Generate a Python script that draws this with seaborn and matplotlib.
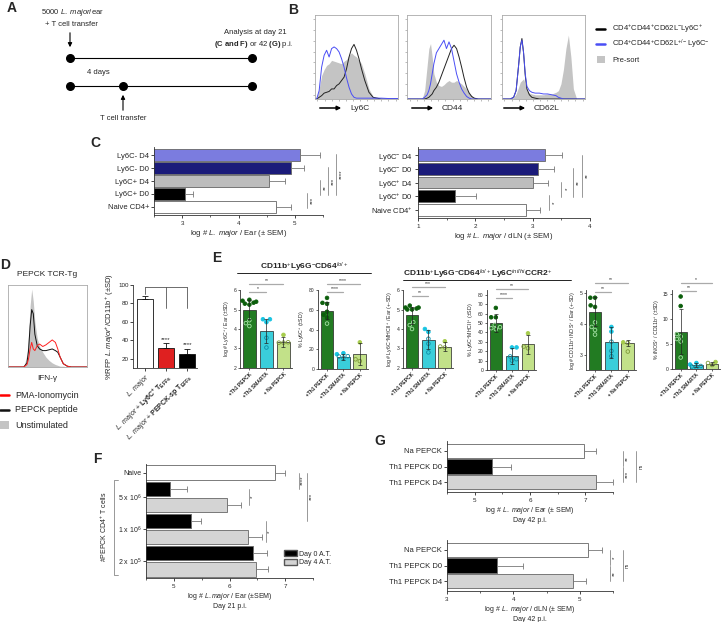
import warnings
import numpy as np
import pandas as pd
import matplotlib
matplotlib.use("Agg")
import matplotlib.pyplot as plt
import matplotlib.transforms as mtransforms
from matplotlib.patches import Patch
from matplotlib.lines import Line2D
import seaborn as sns

warnings.filterwarnings("ignore")

sns.set_style("ticks")
plt.rcParams["font.family"] = ["Liberation Sans", "DejaVu Sans"]
plt.rcParams["mathtext.fontset"] = "custom"
plt.rcParams["mathtext.rm"] = "Liberation Sans"
plt.rcParams["mathtext.it"] = "Liberation Sans:italic"
plt.rcParams["mathtext.bf"] = "Liberation Sans:bold"
plt.rcParams["axes.linewidth"] = 0.6
plt.rcParams["axes.edgecolor"] = "#333333"

W, H = 724, 622

# ---------------- data ----------------
# B: flow histograms (x = fraction of axis, y = fraction of axis height)
LY6C_X = [0, .02, .05, .08, .11, .14, .17, .2, .23, .26, .29, .32, .35, .38, .41, .44, .47, .5, .53, .56, .6, .65, .7, .75, .8, .9, 1]
LY6C_PRE = [0, .01, .12, .28, .35, .4, .42, .46, .45, .44, .43, .42, .45, .47, .52, .55, .52, .5, .46, .42, .3, .12, .03, .01, 0, 0, 0]
LY6C_POS = [0, 0, .02, .04, .07, .08, .09, .12, .12, .16, .18, .22, .26, .36, .5, .6, .65, .58, .48, .36, .22, .08, .02, .01, 0, 0, 0]
LY6C_NEG = [0, 0, .1, .38, .52, .58, .5, .6, .62, .6, .56, .48, .38, .25, .14, .06, .02, .01, .01, .01, .01, .01, .01, .01, .01, .005, .005]

CD44_X = [0, .18, .21, .24, .26, .28, .3, .32, .35, .38, .41, .44, .47, .5, .53, .56, .59, .62, .65, .68, .71, .74, .77, .8, .85, 1]
CD44_PRE = [0, 0, .1, .4, .6, .66, .5, .3, .2, .16, .15, .17, .2, .22, .2, .2, .22, .2, .18, .15, .12, .08, .04, .02, 0, 0]
CD44_POS = [0, 0, 0, .01, .02, .04, .06, .1, .14, .2, .28, .36, .44, .52, .6, .64, .6, .5, .38, .25, .14, .07, .03, .01, 0, 0]
CD44_NEG = [0, 0, .02, .05, .1, .18, .3, .42, .55, .6, .65, .7, .6, .68, .6, .45, .3, .2, .12, .07, .03, .01, 0, 0, 0, 0]

CD62L_X = [0, .1, .14, .17, .2, .22, .24, .26, .28, .3, .33, .36, .4, .45, .5, .55, .6, .65, .68, .71, .74, .77, .8, .83, .86, .9, 1]
CD62L_PRE = [0, 0, .02, .06, .14, .2, .22, .24, .18, .1, .07, .06, .05, .05, .05, .06, .06, .08, .1, .18, .35, .6, .76, .5, .12, 0, 0]
CD62L_POS = [0, 0, .02, .1, .4, .62, .72, .55, .28, .12, .05, .02, .01, 0, 0, 0, 0, 0, 0, 0, 0, 0, 0, 0, 0, 0, 0]
CD62L_NEG = [0, 0, .02, .1, .4, .62, .7, .55, .3, .15, .1, .08, .07, .07, .06, .06, .05, .04, .02, .01, 0, 0, 0, 0, 0, 0, 0]

# C
C_EAR_GROUPS = ["Ly6C- D4", "Ly6C- D0", "Ly6C+ D4", "Ly6C+ D0", "Naive CD4+"]
C_EAR_MEAN = [5.1, 4.93, 4.55, 3.05, 4.67]
C_EAR_SEM = [0.35, 0.24, 0.28, 0.15, 0.26]
C_DLN_GROUPS = [r"Ly6C$^{-}$ D4", r"Ly6C$^{-}$ D0", r"Ly6C$^{+}$ D4", r"Ly6C$^{+}$ D0", r"Naive CD4$^{+}$"]
C_DLN_MEAN = [3.22, 3.1, 3.0, 1.65, 2.88]
C_DLN_SEM = [0.3, 0.28, 0.27, 0.37, 0.25]
C_COLORS = ["#6a6cf0", "#0b0b8a", "#bdbdbd", "#000000", "#ffffff"]
C_EAR_SIG = [(3, 4, "***"), (2, 3, "**"), (1, 3, "***"), (0, 3, "****")]
C_DLN_SIG = [(3, 4, "*"), (2, 3, "*"), (1, 3, "**"), (0, 3, "**")]

# D
D_HIST_X = [0, .2, .24, .26, .28, .3, .32, .34, .37, .4, .44, .48, .52, .56, .6, .63, .66, .7, .75, .8, 1]
D_UNSTIM = [0, 0, .15, .4, .75, .95, .8, .55, .35, .25, .18, .12, .08, .05, .03, .02, .01, .01, 0, 0, 0]
D_PEPTIDE = [0, 0, .05, .2, .5, .7, .65, .4, .26, .22, .2, .2, .21, .22, .2, .18, .12, .04, .01, 0, 0]
D_PMA = [0, 0, .03, .1, .22, .3, .22, .2, .26, .28, .25, .27, .3, .33, .3, .22, .12, .04, .01, 0, 0]
D_GROUPS = [r"$\it{L.\ major}$",
            r"$\it{L.\ major}$ + $\bf{Ly6C^{+}\ T_{EFFs}}$",
            r"$\it{L.\ major}$ + $\bf{PEPCK}$-$\bf{sp\ T_{EFFs}}$"]
D_MEAN = [85, 32, 25]
D_SD = [3.5, 5, 6]
D_COLORS = ["#ffffff", "#ff0000", "#000000"]

# E
E_GROUPS = ["+Th1 PEPCK", "+Th1 SMARTA", "+ Na PEPCK"]
E_BAR_COLORS = ["#138a13", "#1fe5f5", "#c6f07a"]
E_DOT_COLORS = ["#0b5e0b", "#17c4e2", "#a6cc4c"]
E_OPEN_EDGES = ["#a6e3a6", "#0b8ea6", "#7f9a38"]

E1_MEAN, E1_SD = [5.0, 3.9, 3.33], [0.5, 0.6, 0.25]
E1_FILLED = [[5.5, 5.45, 5.4, 5.35, 5.3, 5.25], [4.5, 4.5, 4.35], [3.7]]
E1_OPEN = [[4.45, 4.3, 4.15], [3.55, 3.05], [3.3, 3.3, 3.32]]

E2_MEAN, E2_SD = [59, 12.6, 15], [8.5, 3, 11]
E2_FILLED = [[72, 67, 66, 58, 55, 52], [16, 15], [27]]
E2_OPEN = [[46], [13, 12.6, 11.4], [9.8, 8]]

E3_MEAN, E3_SD = [4.7, 3.45, 3.1], [0.45, 0.5, 0.25]
E3_FILLED = [[5.2, 5.1, 5.1, 5.05, 5.0, 5.0], [4.0, 3.85], [3.37]]
E3_OPEN = [[4.35, 4.2, 4.0], [3.5, 3.25, 2.8], [3.1, 3.05]]

E4_MEAN, E4_SD = [50, 15.3, 27.4], [9.5, 8.5, 10]
E4_FILLED = [[66, 56, 56], [24, 24], [39]]
E4_OPEN = [[48, 45.5, 44.4, 43.4], [14.4, 11.5, 10], [24.9, 23.1]]

E5_MEAN, E5_SD = [4.4, 3.4, 3.37], [0.48, 0.5, 0.1]
E5_FILLED = [[4.85, 4.85, 4.6, 4.55], [3.9, 3.75], [3.4]]
E5_OPEN = [[4.05, 3.9, 3.8, 3.65], [3.42, 3.12, 2.95], [3.38, 3.1]]

E6_MEAN, E6_SD = [7.5, 0.8, 1.1], [4.5, 0.35, 0.25]
E6_FILLED = [[14.5, 12.6], [1.2, 0.9], [1.4]]
E6_OPEN = [[7.0, 6.5, 6.0, 5.5, 2.3], [0.6, 0.5, 0.3], [1.2, 0.8]]

# F
F_ROWS = ["Naive", "5e6 D0", "5e6 D4", "1e6 D0", "1e6 D4", "2e5 D0", "2e5 D4"]
F_MEAN = [6.81, 4.94, 5.96, 5.31, 6.33, 6.43, 6.47]
F_SEM = [0.18, 0.3, 0.25, 0.18, 0.25, 0.25, 0.23]
F_COLORS = ["#ffffff", "#000000", "#d4d4d4", "#000000", "#d4d4d4", "#000000", "#d4d4d4"]
F_TICKLABELS = ["Naive", r"5 x 10$^{6}$", r"1 x 10$^{6}$", r"2 x 10$^{5}$"]
F_SIG = [(1, 2, "*"), (3, 4.3, "*"), (0, 1, "****"), (0, 3, "***")]

# G
G_GROUPS = ["Na PEPCK", "Th1 PEPCK D0", "Th1 PEPCK D4"]
G_EAR_MEAN = [6.97, 5.31, 7.2]
G_EAR_SEM = [0.23, 0.34, 0.3]
G_DLN_MEAN = [5.12, 3.75, 4.9]
G_DLN_SEM = [0.21, 0.39, 0.2]
G_COLORS = ["#ffffff", "#000000", "#d4d4d4"]
G_EAR_SIG = [(0, 1, "**"), (1, 2, "***"), (0, 2, "ns")]
G_DLN_SIG = [(0, 1, "*"), (1, 2, "**"), (0, 2, "ns")]

# ---------------- figure ----------------
fig = plt.figure(figsize=(W / 100, H / 100), dpi=100)


def px_axes(box):
    x0, y0, x1, y1 = box
    return fig.add_axes([x0 / W, 1 - y1 / H, (x1 - x0) / W, (y1 - y0) / H])


ov = fig.add_axes([0, 0, 1, 1])
ov.set_xlim(0, W)
ov.set_ylim(H, 0)
ov.axis("off")

# panel letters
for lab, (x, y) in {"A": (12, 8), "B": (293, 10), "C": (95, 143), "D": (5, 265),
                    "E": (217, 258), "F": (97, 459), "G": (380, 441)}.items():
    ov.text(x, y, lab, fontsize=10, fontweight="bold", ha="center", va="center")

# ---------- A: schematic ----------
ov.text(72, 13, r"5000 $\it{L.\ major}$/ear", fontsize=5.5, ha="center", va="center")
ov.text(71, 24, "+ T cell transfer", fontsize=5.5, ha="center", va="center")
ov.annotate("", xy=(70, 50), xytext=(70, 30),
            arrowprops=dict(arrowstyle="-|>", color="k", lw=0.8, mutation_scale=6))
ov.plot([70, 252], [58, 58], color="k", lw=0.8)
ov.scatter([70, 252], [58, 58], s=30, color="k", zorder=3)
ov.text(98, 72, "4 days", fontsize=5.5, ha="center", va="center")
ov.plot([70, 252], [86, 86], color="k", lw=0.8)
ov.scatter([70, 123, 252], [86, 86, 86], s=30, color="k", zorder=3)
ov.annotate("", xy=(123, 92), xytext=(123, 113),
            arrowprops=dict(arrowstyle="-|>", color="k", lw=0.8, mutation_scale=6))
ov.text(123, 119, "T cell transfer", fontsize=5.5, ha="center", va="center")
ov.text(255, 32, "Analysis at day 21", fontsize=5.5, ha="center", va="center")
ov.text(254, 44, r"$\bf{(C\ and\ F)}$ or 42 $\bf{(G)}$ p.i.", fontsize=5.5, ha="center", va="center")


# ---------- B: flow histograms ----------
def flow_panel(ax, xs, pre, curves):
    ax.fill_between(xs, pre, color="#c4c4c4", lw=0)
    for ys, col in curves:
        ax.plot(xs, ys, color=col, lw=0.7)
    ax.set_xlim(0, 1)
    ax.set_ylim(0, 1)
    ax.set_xticks(np.linspace(0.03, 0.97, 12))
    ax.set_yticks(np.linspace(0.05, 0.95, 8))
    ax.set_xticklabels([])
    ax.set_yticklabels([])
    ax.tick_params(length=1.2, width=0.4, color="#888888")
    for s in ax.spines.values():
        s.set_color("#aaaaaa")
        s.set_linewidth(0.6)


B_BOXES = [(315, 15, 398, 99), (407, 15, 491, 99), (502, 15, 585, 99)]
B_SETS = [(LY6C_X, LY6C_PRE, LY6C_POS, LY6C_NEG, "Ly6C", 317),
          (CD44_X, CD44_PRE, CD44_POS, CD44_NEG, "CD44", 409),
          (CD62L_X, CD62L_PRE, CD62L_POS, CD62L_NEG, "CD62L", 501)]
for box, (xs, pre, pos, neg, name, ax0) in zip(B_BOXES, B_SETS):
    axb = px_axes(box)
    flow_panel(axb, xs, pre, [(pos, "#222222"), (neg, "#4a4ef5")])
    ov.annotate("", xy=(ax0 + 27, 108), xytext=(ax0, 108),
                arrowprops=dict(arrowstyle="-|>", color="k", lw=1.1, mutation_scale=6))
    ov.text(ax0 + 33, 108, name, fontsize=6, ha="left", va="center")

ov.plot([596, 605], [29, 29], color="k", lw=1.8)
ov.text(612, 29, r"CD4$^{+}$CD44$^{+}$CD62L$^{-}$Ly6C$^{+}$", fontsize=5.5, va="center")
ov.plot([596, 605], [44, 44], color="#4a4ef5", lw=1.8)
ov.text(612, 44, r"CD4$^{+}$CD44$^{+}$CD62L$^{+/-}$Ly6C$^{-}$", fontsize=5.5, va="center")
ov.add_patch(plt.Rectangle((597, 56), 8, 7, color="#c4c4c4", lw=0))
ov.text(612, 60, "Pre-sort", fontsize=5.5, va="center")


# ---------- horizontal bar helper (C, F, G) ----------
def hbar(ax, rows, means, errs, colors, xlim, major, minor, margin=0.12):
    df = pd.DataFrame({"row": rows, "value": means})
    sns.barplot(data=df, x="value", y="row", hue="row", palette=dict(zip(rows, colors)),
                legend=False, orient="h", width=0.88, edgecolor="#666666",
                linewidth=0.6, ax=ax)
    ax.errorbar(means, np.arange(len(rows)), xerr=[np.zeros(len(rows)), errs], fmt="none",
                ecolor="#777777", elinewidth=0.6, capsize=2.2, capthick=0.6, zorder=3)
    ax.set_xlim(*xlim)
    ax.set_ylim(len(rows) - 0.5 + margin, -0.5 - margin)
    ax.set_xticks(major)
    ax.set_xticks(minor, minor=True)
    ax.set_xlabel("")
    ax.set_ylabel("")
    sns.despine(ax=ax)
    ax.tick_params(axis="y", labelsize=5.5, length=2, width=0.6, pad=1.5)
    ax.tick_params(axis="x", which="major", labelsize=4.5, length=2.5, width=0.6, pad=2)
    ax.tick_params(axis="x", which="minor", length=1.5, width=0.5)


def vsig(ax, x, r0, r1, txt, dx, rot=90, fs=4.5, col="#888888"):
    ax.plot([x, x], [r0, r1], color=col, lw=0.6, clip_on=False)
    ax.text(x + dx, (r0 + r1) / 2, txt, rotation=rot, ha="center", va="center",
            fontsize=fs, clip_on=False)


# ---------- C ----------
axc1 = px_axes((154, 147, 323, 215))
hbar(axc1, C_EAR_GROUPS, C_EAR_MEAN, C_EAR_SEM, C_COLORS, (2.5, 5.5), [3, 4, 5], [2.5, 3.5, 4.5, 5.5])
axc1.set_xlabel(r"log # $\it{L.\ major}$ / Ear (± SEM)", fontsize=5.5, labelpad=1.5)
for (r0, r1, txt), x in zip(C_EAR_SIG, [5.21, 5.44, 5.58, 5.73]):
    vsig(axc1, x, r0 - 0.05, r1 + 0.05, txt, 0.1)

axc2 = px_axes((418, 147, 590, 218))
hbar(axc2, C_DLN_GROUPS, C_DLN_MEAN, C_DLN_SEM, C_COLORS, (1, 4), [1, 2, 3, 4], [1.5, 2.5, 3.5])
axc2.set_xlabel(r"log # $\it{L.\ major}$ / dLN (± SEM)", fontsize=5.5, labelpad=1.5)
for (r0, r1, txt), x in zip(C_DLN_SIG, [3.28, 3.5, 3.7, 3.86]):
    vsig(axc2, x, r0 - 0.05, r1 + 0.05, txt, 0.1)

# ---------- D ----------
axdh = px_axes((8, 285, 87, 367))
flow_panel(axdh, D_HIST_X, D_UNSTIM, [(D_PEPTIDE, "#111111"), (D_PMA, "#ff2020")])
axdh.set_xticks([])
axdh.set_yticks([])
ov.text(47, 275, "PEPCK TCR-Tg", fontsize=6, ha="center", va="center")
ov.text(47, 378, "IFN-γ", fontsize=6, ha="center", va="center")
ov.plot([0, 9], [395, 395], color="#ff0000", lw=1.8)
ov.text(15, 395, "PMA-Ionomycin", fontsize=6.5, va="center")
ov.plot([0, 9], [410, 410], color="#111111", lw=1.8)
ov.text(15, 410, "PEPCK peptide", fontsize=6.5, va="center")
ov.add_patch(plt.Rectangle((0, 421), 9, 8, color="#c4c4c4", lw=0))
ov.text(15, 425, "Unstimulated", fontsize=6.5, va="center")

axd = px_axes((133, 285, 197, 368))
dfd = pd.DataFrame({"group": D_GROUPS, "value": D_MEAN})
sns.barplot(data=dfd, x="group", y="value", hue="group", palette=dict(zip(D_GROUPS, D_COLORS)),
            legend=False, width=0.75, edgecolor="#111111", linewidth=0.6, ax=axd)
axd.errorbar(range(3), D_MEAN, yerr=[np.zeros(3), D_SD], fmt="none", ecolor="#111111",
             elinewidth=0.6, capsize=2, capthick=0.6)
axd.set_ylim(10, 100)
axd.set_yticks([20, 40, 60, 80, 100])
axd.set_xlim(-0.55, 2.45)
axd.set_xlabel("")
axd.set_ylabel(r"%RFP $\it{L.major}$$^{+}$/CD11b$^{+}$ (±SD)", fontsize=5.5, labelpad=2)
sns.despine(ax=axd)
axd.tick_params(axis="y", labelsize=4.5, length=2, width=0.6, pad=1)
axd.tick_params(axis="x", length=2, width=0.6, pad=1)
axd.set_xticks(range(3))
axd.set_xticklabels(D_GROUPS, rotation=45, ha="right", rotation_mode="anchor", fontsize=5)
for i in (1, 2):
    axd.text(i, D_MEAN[i] + D_SD[i] + 1.5, "****", ha="center", va="bottom", fontsize=4.5)
axd.plot([0, 2], [98, 98], color="#555555", lw=0.6, clip_on=False)
for i, bottom in enumerate([90, 75, 75]):
    axd.plot([i, i], [bottom, 98], color="#555555", lw=0.6, clip_on=False)


# ---------- E ----------
def dotbars(ax, means, sds, filled, opened, ylim, yticks, ylabel, sigs):
    dfb = pd.DataFrame({"group": E_GROUPS, "value": means})
    sns.barplot(data=dfb, x="group", y="value", hue="group",
                palette=dict(zip(E_GROUPS, E_BAR_COLORS)), legend=False, width=0.78,
                edgecolor="#222222", linewidth=0.5, ax=ax)
    rows = []
    for g, fv, ov_ in zip(E_GROUPS, filled, opened):
        rows += [(g, v, True) for v in fv] + [(g, v, False) for v in ov_]
    pts = pd.DataFrame(rows, columns=["group", "value", "filled"])
    n0 = len(ax.collections)
    sns.swarmplot(data=pts, x="group", y="value", order=E_GROUPS, color="k", size=2.6,
                  linewidth=0.6, ax=ax, zorder=3)
    for coll in ax.collections[n0:]:
        off = coll.get_offsets()
        if len(off) == 0:
            continue
        gi = int(round(off[:, 0].mean()))
        flags = pts[pts.group == E_GROUPS[gi]]["filled"].to_numpy()
        fc = [E_DOT_COLORS[gi] if f else (0, 0, 0, 0) for f in flags]
        ec = [E_DOT_COLORS[gi] if f else E_OPEN_EDGES[gi] for f in flags]
        coll.set_facecolors(fc)
        coll.set_edgecolors(ec)
    ax.errorbar(range(3), means, yerr=sds, fmt="none", ecolor="#222222", elinewidth=0.5,
                capsize=1.5, capthick=0.5, zorder=5)
    ax.set_ylim(*ylim)
    ax.set_yticks(yticks)
    ax.set_xlim(-0.55, 2.5)
    ax.set_xlabel("")
    ax.set_ylabel(ylabel, fontsize=3.8, labelpad=1)
    sns.despine(ax=ax)
    ax.tick_params(axis="y", labelsize=3.6, length=1.5, width=0.5, pad=1)
    ax.tick_params(axis="x", length=1.5, width=0.5, pad=1)
    ax.set_xticks(range(3))
    ax.set_xticklabels(E_GROUPS, rotation=45, ha="right", rotation_mode="anchor",
                       fontsize=3.6, fontweight="bold")
    trans = mtransforms.blended_transform_factory(ax.transData, ax.transAxes)
    for j, yf, txt in sigs:
        ax.plot([0, j], [yf, yf], color="#aaaaaa", lw=0.9, transform=trans, clip_on=False)
        ax.text(j / 2, yf + 0.012, txt, ha="center", va="bottom", fontsize=3.6,
                transform=trans, clip_on=False)


E_SPECS = [
    ((240, 290, 292, 368), E1_MEAN, E1_SD, E1_FILLED, E1_OPEN, (2, 6), [2, 3, 4, 5, 6],
     r"log # Ly6C$^{+}$ / Ear (±SD)", [(2, 1.075, "**"), (1, 0.97, "*")]),
    ((318, 290, 368, 369), E2_MEAN, E2_SD, E2_FILLED, E2_OPEN, (0, 80), [0, 20, 40, 60, 80],
     r"% Ly6C$^{+}$ (±SD)", [(2, 1.075, "****"), (1, 0.975, "****")]),
    ((403, 290, 453, 368), E3_MEAN, E3_SD, E3_FILLED, E3_OPEN, (2, 6), [2, 3, 4, 5, 6],
     r"log # Ly6C$^{+}$MHCII$^{+}$ / Ear (+-SD)", [(2, 1.04, "***"), (1, 0.925, "**")]),
    ((487, 290, 536, 370), E4_MEAN, E4_SD, E4_FILLED, E4_OPEN, (0, 85), list(range(0, 81, 10)),
     r"% Ly6C$^{+}$MHCII$^{+}$ (±SD)", [(2, 1.01, "**"), (1, 0.9, "****")]),
    ((586, 290, 636, 370), E5_MEAN, E5_SD, E5_FILLED, E5_OPEN, (2.5, 5.1), [3, 4, 5],
     r"log # CD11b$^{+}$ iNOS$^{+}$ / Ear (+-SD)", [(2, 1.09, "**"), (1, 0.98, "**")]),
    ((672, 290, 720, 369), E6_MEAN, E6_SD, E6_FILLED, E6_OPEN, (0, 15.8), [0, 5, 10, 15],
     r"% iNOS$^{+}$ / CD11b$^{+}$ (±SD)", [(2, 1.09, "*"), (1, 0.99, "**")]),
]
for box, m, sd, fi, op, yl, yt, lab, sg in E_SPECS:
    dotbars(px_axes(box), m, sd, fi, op, yl, yt, lab, sg)

ov.text(304, 267, r"CD11b$^{+}$Ly6G$^{-}$CD64$^{lo/+}$", fontsize=6, fontweight="bold",
        ha="center", va="center")
ov.plot([237, 371], [273, 273], color="k", lw=0.6)
ov.text(403, 274, r"CD11b$^{+}$Ly6G$^{-}$CD64$^{lo/+}$Ly6C$^{int/hi}$CCR2$^{+}$", fontsize=6,
        fontweight="bold", ha="left", va="center")
ov.plot([403, 571], [280, 280], color="k", lw=0.6)

# ---------- F ----------
axf = px_axes((146, 464, 313, 578))
hbar(axf, F_ROWS, F_MEAN, F_SEM, F_COLORS, (4.5, 7.5), [5, 6, 7], [4.5, 5.5, 6.5, 7.5], margin=0.03)
axf.set_yticks([0, 1.5, 3.5, 5.5])
axf.set_yticklabels(F_TICKLABELS, fontsize=5)
axf.set_xlabel(r"log # $\it{L.major}$ / Ear (±SEM)" + "\nDay 21 p.i.", fontsize=5, labelpad=1.5)
for (r0, r1, txt), x, dx in zip(F_SIG, [6.35, 6.65, 7.25, 7.39], [0.07, 0.07, 0.06, 0.08]):
    vsig(axf, x, r0, r1, txt, dx)
ov.plot([118, 114, 114, 118], [480, 480, 575, 575], color="#888888", lw=0.6)
ov.text(104, 527, r"#PEPCK CD4$^{+}$ T cells", rotation=90, fontsize=5, ha="center", va="center")
axf.legend(handles=[Patch(facecolor="#000000", edgecolor="#555555", label="Day 0 A.T."),
                    Patch(facecolor="#d4d4d4", edgecolor="#555555", label="Day 4 A.T.")],
           loc="upper left", bbox_to_anchor=(281 / W, 1 - 547 / H), bbox_transform=fig.transFigure,
           frameon=False, fontsize=5, handlelength=1.8, handleheight=0.9, labelspacing=0.15,
           handletextpad=0.3, borderpad=0)

# ---------- G ----------
axg1 = px_axes((447, 441, 613, 492))
hbar(axg1, G_GROUPS, G_EAR_MEAN, G_EAR_SEM, G_COLORS, (4.5, 7.5), [5, 6, 7], [4.5, 5.5, 6.5, 7.5], margin=0.1)
axg1.set_xlabel(r"log # $\it{L.\ major}$ / Ear (± SEM)" + "\nDay 42 p.i.", fontsize=5, labelpad=1.5)
for (r0, r1, txt), x in zip(G_EAR_SIG, [7.68, 7.68, 7.92]):
    vsig(axg1, x, r0 + 0.05, r1 - 0.05, txt, 0.08, fs=4.5 if txt != "ns" else 3.5)

axg2 = px_axes((447, 540, 613, 591))
hbar(axg2, G_GROUPS, G_DLN_MEAN, G_DLN_SEM, G_COLORS, (3, 5.5), [3, 4, 5], [3.5, 4.5, 5.5], margin=0.1)
axg2.set_xlabel(r"log # $\it{L.\ major}$ / dLN (± SEM)" + "\nDay 42 p.i.", fontsize=5, labelpad=1.5)
for (r0, r1, txt), x in zip(G_DLN_SIG, [5.45, 5.45, 5.65]):
    vsig(axg2, x, r0 + 0.05, r1 - 0.05, txt, 0.07, fs=4.5 if txt != "ns" else 3.5)

fig.savefig("out.png", dpi=100)
